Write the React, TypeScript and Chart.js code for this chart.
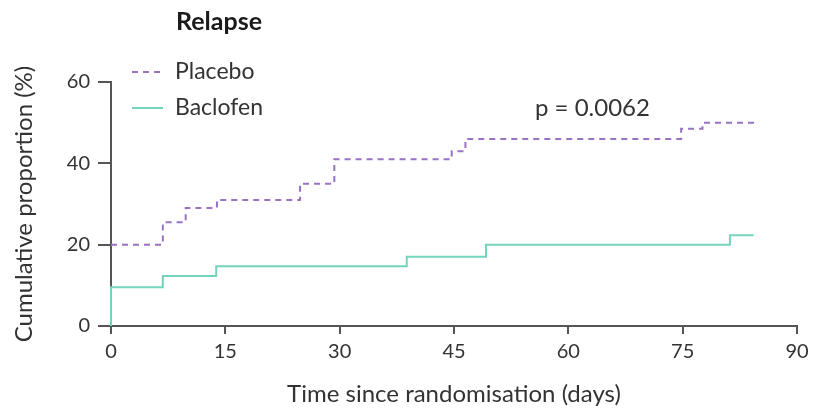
import React, { useEffect, useRef } from "react";
import { Chart, registerables } from "chart.js";

Chart.register(...registerables);

const placeboDays = [0, 6.8, 9.8, 13.9, 24.8, 29.3, 44.7, 46.5, 74.8, 77.6, 84.8];
const placeboPct = [20, 25.5, 29, 31, 35, 41, 43, 46, 48.5, 50, 50];
const baclofenDays = [0, 0, 6.8, 13.8, 38.8, 49.2, 81.2, 84.3];
const baclofenPct = [0, 9.5, 12.3, 14.7, 17, 20, 22.3, 22.3];
const xTicks = [0, 15, 30, 45, 60, 75, 90];
const yTicks = [0, 20, 40, 60];
const seriesNames = ["Placebo", "Baclofen"];
const chartTitle = "Relapse";
const pValueText = "p = 0.0062";
const xTitle = "Time since randomisation (days)";
const yTitle = "Cumulative proportion (%)";

const FONT = "Lato";
const PURPLE = "#9a72c4";
const TEAL = "#74d3bd";
const AXIS = "#555555";
const TEXT = "#333333";

const overlayPlugin = {
  id: "overlay",
  afterDraw(chart: any) {
    const ctx = chart.ctx;
    ctx.save();
    ctx.fillStyle = "#1a1a1a";
    ctx.textBaseline = "middle";
    ctx.textAlign = "left";
    ctx.font = `bold 25px ${FONT}`;
    ctx.fillText(chartTitle, 176, 22);
    ctx.font = `23px ${FONT}`;
    ctx.fillStyle = TEXT;
    ctx.fillText(seriesNames[0], 175, 72);
    ctx.fillText(seriesNames[1], 175, 108);
    ctx.font = `24px ${FONT}`;
    ctx.fillText(pValueText, 535, 108);
    ctx.lineWidth = 2;
    ctx.strokeStyle = PURPLE;
    ctx.setLineDash([6, 5]);
    ctx.beginPath();
    ctx.moveTo(132, 72);
    ctx.lineTo(163, 72);
    ctx.stroke();
    ctx.setLineDash([]);
    ctx.strokeStyle = TEAL;
    ctx.beginPath();
    ctx.moveTo(132, 108);
    ctx.lineTo(163, 108);
    ctx.stroke();
    ctx.restore();
  },
};

export default function App() {
  const ref = useRef<HTMLCanvasElement>(null);
  useEffect(() => {
    document.body.style.margin = "0";
    const chart = new Chart(ref.current as HTMLCanvasElement, {
      type: "line",
      data: {
        datasets: [
          {
            label: seriesNames[0],
            data: placeboDays.map((d, i) => ({ x: d, y: placeboPct[i] })),
            borderColor: PURPLE,
            borderWidth: 2,
            borderDash: [6, 5],
            stepped: "before",
            pointRadius: 0,
            fill: false,
            clip: false as any,
          },
          {
            label: seriesNames[1],
            data: baclofenDays.map((d, i) => ({ x: d, y: baclofenPct[i] })),
            borderColor: TEAL,
            borderWidth: 2,
            stepped: "before",
            pointRadius: 0,
            fill: false,
            clip: false as any,
          },
        ],
      },
      options: {
        animation: false,
        responsive: false,
        layout: { padding: { top: 82, right: 18, left: 0, bottom: 0 } },
        plugins: { legend: { display: false }, tooltip: { enabled: false } },
        scales: {
          x: {
            type: "linear",
            min: 0,
            max: 90,
            afterBuildTicks: (s: any) => {
              s.ticks = xTicks.map((v) => ({ value: v }));
            },
            afterFit: (s: any) => {
              s.height = 88;
            },
            grid: { drawOnChartArea: false, drawTicks: true, tickLength: 8, color: AXIS, lineWidth: 2 },
            border: { color: AXIS, width: 2 },
            ticks: { color: TEXT, font: { family: FONT, size: 20 }, padding: 6, maxRotation: 0 },
            title: {
              display: true,
              text: xTitle,
              color: TEXT,
              font: { family: FONT, size: 24 },
              padding: { top: 0, bottom: 5 },
            },
          },
          y: {
            type: "linear",
            min: 0,
            max: 60,
            afterBuildTicks: (s: any) => {
              s.ticks = yTicks.map((v) => ({ value: v }));
            },
            afterFit: (s: any) => {
              s.width = 111;
            },
            grid: { drawOnChartArea: false, drawTicks: true, tickLength: 13, color: AXIS, lineWidth: 2 },
            border: { color: AXIS, width: 2 },
            ticks: { color: TEXT, font: { family: FONT, size: 20 }, padding: 8 },
            title: {
              display: true,
              text: yTitle,
              color: TEXT,
              font: { family: FONT, size: 24 },
              padding: { top: 10, bottom: 0 },
            },
          },
        },
      },
      plugins: [overlayPlugin],
    } as any);
    return () => chart.destroy();
  }, []);
  return (
    <div style={{ width: 815, height: 414 }}>
      <canvas ref={ref} width={815} height={414} />
    </div>
  );
}
